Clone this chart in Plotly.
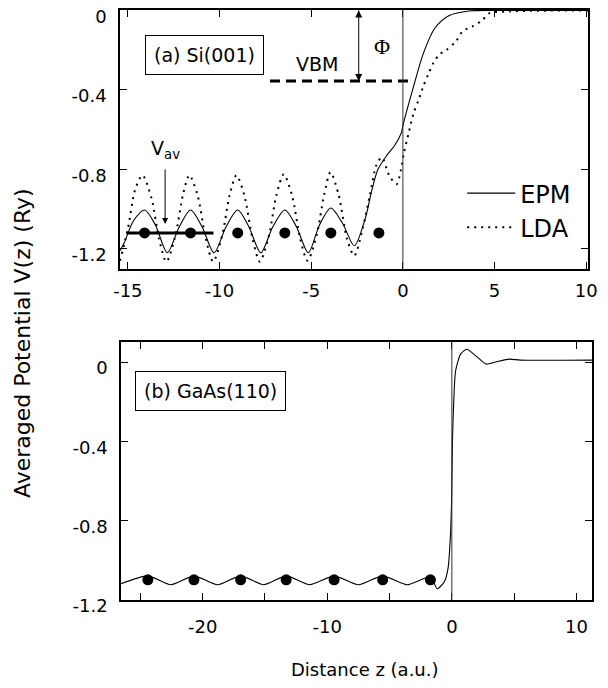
import plotly.graph_objects as go

# ---------------- data ----------------
# (a) Si(001) -- EPM (solid)
si_epm_z = [-15.43, -15.2, -14.7, -14.09, -13.5, -12.85, -12.2, -11.58, -10.95, -10.3,
            -9.65, -9.01, -8.4, -7.75, -7.1, -6.44, -5.8, -5.16, -4.55, -3.93,
            -3.3, -2.65, -2.06, -1.68, -1.36, -0.88, -0.45, -0.08, 0.0, 0.59,
            1.12, 1.74, 2.55, 3.6, 5.0, 10.1]
si_epm_v = [-1.21, -1.17, -1.06, -1.005, -1.08, -1.22, -1.09, -1.005, -1.09, -1.22,
            -1.09, -1.005, -1.09, -1.22, -1.09, -1.005, -1.09, -1.22, -1.08, -0.995,
            -1.07, -1.185, -1.05, -0.90, -0.80, -0.73, -0.68, -0.615, -0.58, -0.38,
            -0.215, -0.09, -0.025, -0.003, 0.0, 0.0]

# (a) Si(001) -- LDA (dotted)
si_lda_z = [-15.43, -15.0, -14.6, -14.2, -13.7, -13.3, -12.9, -12.4, -12.0, -11.65,
            -11.2, -10.75, -10.35, -9.85, -9.45, -9.08, -8.65, -8.2, -7.8, -7.3,
            -6.9, -6.5, -6.05, -5.6, -5.2, -4.7, -4.3, -3.95, -3.5, -3.05,
            -2.65, -2.2, -1.8, -1.45, -1.15, -0.75, -0.35, -0.1, 0.05, 0.32,
            0.59, 0.86, 1.12, 1.39, 1.66, 2.01, 2.37, 2.9, 3.26, 3.8,
            4.33, 4.7, 5.8, 10.1]
si_lda_v = [-1.26, -1.10, -0.90, -0.83, -0.95, -1.15, -1.265, -1.13, -0.93, -0.83,
            -0.93, -1.15, -1.265, -1.13, -0.93, -0.83, -0.93, -1.15, -1.265, -1.13,
            -0.93, -0.825, -0.93, -1.15, -1.26, -1.13, -0.93, -0.815, -0.93, -1.15,
            -1.235, -1.10, -0.93, -0.78, -0.74, -0.83, -0.875, -0.80, -0.72, -0.615,
            -0.515, -0.45, -0.38, -0.32, -0.265, -0.22, -0.20, -0.155, -0.105, -0.08,
            -0.05, -0.015, -0.005, 0.0]

# (a) atomic layer positions (dots)
si_atom_z = [-14.09, -11.58, -9.01, -6.44, -3.93, -1.31]
si_atom_v = [-1.12, -1.12, -1.12, -1.12, -1.12, -1.12]

# (a) average potential V_av, valence band maximum, work function Phi
vav_z = [-15.08, -10.33]
vav_v = [-1.12, -1.12]
vbm_z = [-7.25, 0.5]
vbm_v = [-0.355, -0.355]
phi_z = [-2.41, -2.41]
phi_v = [0.0, -0.355]
vav_arrow_z = -12.97
vav_arrow_v = [-0.70, -1.075]   # label position, arrow head

# (b) GaAs(110) -- EPM (solid)
gaas_z = [-26.56, -24.4, -22.55, -20.7, -18.8, -16.95, -15.1, -13.3, -11.4, -9.45,
          -7.5, -5.55, -3.6, -1.72, -1.17, -0.6, -0.3, -0.1, -0.02, 0.05,
          0.15, 0.3, 0.7, 1.2, 1.95, 2.75, 3.5, 4.6, 5.5, 11.25]
gaas_v = [-1.12, -1.08, -1.125, -1.08, -1.125, -1.08, -1.125, -1.08, -1.125, -1.08,
          -1.125, -1.08, -1.125, -1.085, -1.145, -1.11, -1.04, -0.86, -0.70, -0.40,
          -0.20, -0.045, 0.04, 0.065, 0.03, -0.01, 0.0, 0.015, 0.01, 0.01]

gaas_atom_z = [-24.4, -20.7, -16.95, -13.3, -9.45, -5.55, -1.72]
gaas_atom_v = [-1.1, -1.1, -1.1, -1.1, -1.1, -1.1, -1.1]

# tick labels
top_xticks = [-15, -10, -5, 0, 5, 10]
top_xtext = ["-15", "-10", "-5", "0", "5", "10"]
bot_xticks = [-20, -10, 0, 10]
bot_xtext = ["-20", "-10", "0", "10"]
bot_xminor = [-25, -15, -5, 5]
yticks = [0, -0.4, -0.8, -1.2]
ytext = ["0", "-0.4", "-0.8", "-1.2"]

FONT = "DejaVu Sans"
INK = "black"

fig = go.Figure()

# ---------------- traces ----------------
fig.add_trace(go.Scatter(x=si_epm_z, y=si_epm_v, mode="lines", name="EPM",
                         line=dict(color=INK, width=1.1, shape="spline", smoothing=0.8),
                         xaxis="x", yaxis="y"))
fig.add_trace(go.Scatter(x=si_lda_z, y=si_lda_v, mode="lines", name="LDA",
                         line=dict(color=INK, width=2, dash="2px,5px", shape="spline", smoothing=0.8),
                         xaxis="x", yaxis="y"))
fig.add_trace(go.Scatter(x=vav_z, y=vav_v, mode="lines", showlegend=False,
                         line=dict(color=INK, width=3), xaxis="x", yaxis="y"))
fig.add_trace(go.Scatter(x=vbm_z, y=vbm_v, mode="lines", showlegend=False,
                         line=dict(color=INK, width=3, dash="10px,6px"), xaxis="x", yaxis="y"))
fig.add_trace(go.Scatter(x=phi_z, y=phi_v, mode="lines+markers", showlegend=False,
                         line=dict(color=INK, width=1),
                         marker=dict(symbol=["arrow-up", "arrow-down"], size=7, color=INK,
                                     line=dict(width=0)),
                         xaxis="x", yaxis="y"))
fig.add_trace(go.Scatter(x=si_atom_z, y=si_atom_v, mode="markers", showlegend=False,
                         marker=dict(color=INK, size=11), xaxis="x", yaxis="y"))

fig.add_trace(go.Scatter(x=gaas_z, y=gaas_v, mode="lines", showlegend=False,
                         line=dict(color=INK, width=1.1, shape="spline", smoothing=0.6),
                         xaxis="x2", yaxis="y2"))
fig.add_trace(go.Scatter(x=gaas_atom_z, y=gaas_atom_v, mode="markers", showlegend=False,
                         marker=dict(color=INK, size=11), xaxis="x2", yaxis="y2"))

# ---------------- axes ----------------
axis_common = dict(showline=True, linecolor=INK, linewidth=1.5, mirror="ticks",
                   ticks="inside", ticklen=7, tickwidth=1, tickcolor=INK,
                   showgrid=False, zeroline=False,
                   tickfont=dict(family=FONT, size=18, color=INK))

fig.update_layout(
    xaxis=dict(domain=[0, 0.9917], range=[-15.43, 10.1], anchor="y",
               tickmode="array", tickvals=top_xticks, ticktext=top_xtext,
               ticklabelstandoff=5, **axis_common),
    yaxis=dict(domain=[0.5616, 1], range=[-1.3, 0.002], anchor="x",
               tickmode="array", tickvals=yticks, ticktext=ytext,
               ticklabelstandoff=8, ticklabelshift=6, **axis_common),
    xaxis2=dict(domain=[0.002, 1], range=[-26.56, 11.25], anchor="y2",
                tickmode="array", tickvals=bot_xticks, ticktext=bot_xtext,
                minor=dict(tickmode="array", tickvals=bot_xminor, ticks="inside",
                           ticklen=7, tickwidth=1, tickcolor=INK, showgrid=False),
                ticklabelstandoff=10, **axis_common),
    yaxis2=dict(domain=[0, 0.4368], range=[-1.202, 0.1], anchor="x2",
                tickmode="array", tickvals=yticks, ticktext=ytext,
                ticklabelstandoff=8, ticklabelshift=6, **axis_common),
)

# vertical lines at z = 0
fig.add_shape(type="line", xref="x", yref="y domain", x0=0, x1=0, y0=0, y1=1,
              line=dict(color="#333", width=1))
fig.add_shape(type="line", xref="x2", yref="y2 domain", x0=0, x1=0, y0=0, y1=1,
              line=dict(color="#333", width=1))

# ---------------- annotations ----------------
ann = []
ann.append(dict(text="(a) Si(001)", x=-10.8, y=-0.2225, xref="x", yref="y",
                showarrow=False, bordercolor=INK, borderwidth=1, borderpad=8,
                font=dict(family=FONT, size=19, color=INK)))
ann.append(dict(text="VBM", x=-4.7, y=-0.27, xref="x", yref="y", showarrow=False,
                font=dict(family=FONT, size=19, color=INK)))
ann.append(dict(text="Φ", x=-1.15, y=-0.18, xref="x", yref="y", showarrow=False,
                font=dict(family="Liberation Serif", size=22, color=INK)))
ann.append(dict(text="V<sub>av</sub>", x=vav_arrow_z, y=vav_arrow_v[1],
                ax=vav_arrow_z, ay=vav_arrow_v[0], xref="x", yref="y",
                axref="x", ayref="y", showarrow=True, arrowhead=2, arrowsize=1.2,
                arrowwidth=1, arrowcolor=INK, startstandoff=6,
                font=dict(family=FONT, size=19, color=INK)))
ann.append(dict(text="(b) GaAs(110)", x=-19.4, y=-0.145, xref="x2", yref="y2",
                showarrow=False, bordercolor=INK, borderwidth=1, borderpad=8,
                font=dict(family=FONT, size=19, color=INK)))
ann.append(dict(text="Averaged Potential V(z) (Ry)", x=-0.206, y=0.435,
                xref="paper", yref="paper", xanchor="center", yanchor="middle",
                showarrow=False, textangle=-90,
                font=dict(family=FONT, size=22, color=INK)))
ann.append(dict(text="Distance z (a.u.)", x=0.519, y=-0.118, xref="paper", yref="paper",
                xanchor="center", yanchor="middle",
                showarrow=False, font=dict(family=FONT, size=18, color=INK)))

fig.update_layout(
    annotations=ann,
    width=608, height=688,
    margin=dict(l=120, r=6, t=7, b=88),
    paper_bgcolor="white", plot_bgcolor="white",
    showlegend=True,
    legend=dict(x=0.725, y=0.727, xanchor="left", yanchor="top", itemwidth=48,
                bgcolor="rgba(0,0,0,0)", font=dict(family=FONT, size=24, color=INK)),
)

fig.write_html("out.html", config={"displayModeBar": False},
               post_script="document.body.style.margin='0px';document.body.style.overflow='hidden';")
